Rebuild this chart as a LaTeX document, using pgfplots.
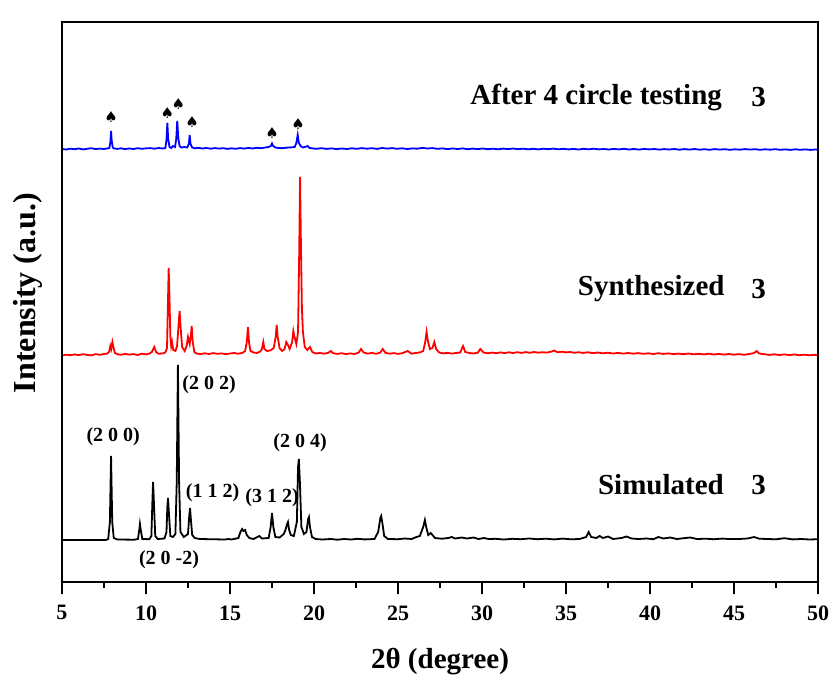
\documentclass[border=0pt]{standalone}
\usepackage{pgfplots}
\pgfplotsset{compat=1.18}
\usepackage{fontspec}
\setmainfont{Liberation Serif}
\newfontfamily\symfont{DejaVu Sans}
\begin{document}
\begin{tikzpicture}
\begin{axis}[
  scale only axis, width=756pt, height=560pt,
  xmin=5, xmax=50, ymin=0, ymax=560,
  xtick={5,10,...,50}, ytick=\empty,
  xtick pos=left, tick align=outside,
  major tick length=12pt,
  xtick style={draw=none},
  axis line style={line width=2.8pt},
  /pgf/number format/assume math mode=true,
  ticklabel style={font=\fontsize{22}{22}\selectfont\bfseries},
  xticklabel shift=8pt,
  xlabel={2θ (degree)}, ylabel={Intensity (a.u.)},
  xlabel style={font=\fontsize{29}{29}\selectfont\bfseries, yshift=-21pt},
  ylabel style={font=\fontsize{32}{32}\selectfont\bfseries, yshift=4pt, xshift=9pt},
  clip=false,
]
% Simulated
\addplot[black, line width=1.8pt] coordinates {
(5.0,42) (7.6,42) (7.75,43) (7.85,60) (7.92,126) (7.99,60) (8.08,44) (8.3,42.5) (9.3,42.3) (9.52,43) (9.6,52) (9.64,58) (9.69,52) (9.78,43)
(10.2,42.8) (10.32,46) (10.38,80) (10.42,100) (10.47,80) (10.55,46) (10.7,43) (11.1,43.5) (11.22,50) (11.27,75) (11.31,84) (11.36,70) (11.45,46)
(11.6,45) (11.75,48) (11.83,100) (11.9,217) (11.97,100) (12.05,50) (12.25,45) (12.5,48) (12.57,65) (12.62,74) (12.67,63) (12.75,47) (12.9,44)
(13.2,43) (14.7,42.5) (14.9,43) (15.1,42.5) (15.5,44) (15.62,50) (15.72,53) (15.8,51) (15.9,52) (16.0,47) (16.15,44) (16.4,43) (16.75,46) (16.9,43.5)
(17.3,44) (17.42,55) (17.5,69) (17.58,55) (17.7,45) (17.95,44.5) (18.2,48) (18.3,52) (18.4,58) (18.45,60) (18.52,52) (18.62,47) (18.8,46)
(18.98,60) (19.05,115) (19.1,123) (19.16,100) (19.25,55) (19.4,48) (19.55,50) (19.65,63) (19.7,65) (19.76,55) (19.88,45) (20.1,43) (20.5,42.5)
(21.0,43) (21.4,42.3) (21.8,43) (22.2,42.5) (22.6,43.2) (23.0,42.6) (23.6,43) (23.82,50) (23.95,64) (24.0,66) (24.06,60) (24.18,46) (24.4,43)
(25.0,42.8) (25.4,43.5) (25.8,43) (26.1,45) (26.3,46) (26.5,55) (26.6,62) (26.68,55) (26.8,47) (26.95,49) (27.05,47) (27.2,44) (27.6,43.3)
(28.0,44) (28.2,45) (28.4,43.5) (28.8,44.5) (29.1,43.5) (29.5,44.5) (29.8,43) (30.1,44) (30.4,43) (30.8,43.2) (31.3,42.5) (31.8,43.2) (32.3,42.8)
(32.8,43.5) (33.3,42.8) (33.8,43.3) (34.3,42.6) (34.8,43.4) (35.3,42.7) (35.8,43) (36.2,45) (36.35,50) (36.5,45) (36.8,44) (37.0,46) (37.2,44)
(37.5,45.5) (37.8,43) (38.3,44) (38.6,45.5) (38.9,43.5) (39.3,43) (39.8,43.5) (40.2,42.8) (40.5,45) (40.8,43.5) (41.2,44.5) (41.6,43) (42.0,43.8)
(42.4,44.5) (42.8,43) (43.3,43.3) (43.8,42.8) (44.3,43.4) (44.8,42.9) (45.3,43) (45.8,43.5) (46.2,45) (46.5,43.3) (47.0,43) (47.5,42.7) (48.0,43.8)
(48.5,42.6) (49.0,43) (49.5,42.5) (50.0,42.8)
};
% Synthesized
\addplot[red, line width=1.8pt] coordinates {
(5.0,226.5) (5.25,227.3) (5.5,226.8) (5.75,227.6) (6.0,226.9) (6.25,227.8) (6.5,227.1) (6.75,226.6) (7.0,227.9) (7.25,227.2) (7.5,228.0) (7.7,228.5)
(7.8,230) (7.88,236) (7.93,233) (8.0,240) (8.06,235) (8.15,229) (8.3,227.8) (8.5,227.2) (8.75,228.1) (9.0,227.4) (9.25,227.9) (9.5,227.0) (9.75,228.3)
(10.0,227.6) (10.2,228.4) (10.35,230) (10.49,235) (10.6,230) (10.75,228.2) (11.0,228.6) (11.15,229.5) (11.25,234) (11.32,290) (11.35,314) (11.39,290)
(11.45,245) (11.5,236) (11.55,240) (11.62,232) (11.75,231) (11.85,236) (11.93,255) (12.0,271) (12.06,255) (12.15,235) (12.3,231) (12.42,236) (12.5,245)
(12.6,238) (12.68,248) (12.72,256) (12.78,240) (12.88,230) (13.0,228.5) (13.25,227.9) (13.5,228.7) (13.75,228.0) (14.0,228.9) (14.25,228.2) (14.5,228.6)
(14.75,227.8) (15.0,228.5) (15.25,229.0) (15.5,228.3) (15.75,229.2) (15.9,231) (16.0,240) (16.07,255) (16.13,240) (16.22,231) (16.4,229.5) (16.6,229.0)
(16.8,230.5) (16.9,233) (16.98,240) (17.05,233) (17.2,231) (17.4,231.5) (17.6,234) (17.72,245) (17.78,257) (17.84,245) (17.95,234) (18.1,231) (18.25,233)
(18.35,240) (18.42,238) (18.55,233) (18.7,240) (18.77,251) (18.84,245) (18.95,238) (19.05,250) (19.12,330) (19.17,405) (19.22,340) (19.28,274) (19.34,250)
(19.45,235) (19.6,232) (19.76,235) (19.9,230) (20.1,228.5) (20.35,229.0) (20.6,228.3) (20.85,229.2) (21.0,231) (21.15,228.7) (21.4,228.1) (21.65,228.8)
(21.9,227.9) (22.15,228.6) (22.4,228.0) (22.65,229.3) (22.8,233) (22.95,229.5) (23.2,228.4) (23.45,229.1) (23.7,228.2) (23.95,229.5) (24.09,233) (24.25,229.2)
(24.5,228.3) (24.75,228.9) (25.0,228.1) (25.25,228.8) (25.58,231) (25.8,228.3) (26.05,229.0) (26.3,229.6) (26.5,231) (26.62,240) (26.7,250) (26.78,241)
(26.9,233) (27.05,234) (27.16,240) (27.27,233) (27.45,229.5) (27.7,228.6) (27.95,229.2) (28.2,228.4) (28.45,229.0) (28.7,229.5) (28.87,236) (29.0,230)
(29.25,229.0) (29.5,228.5) (29.75,229.3) (29.9,233) (30.1,229.4) (30.35,228.7) (30.6,229.4) (30.85,228.8) (31.1,229.6) (31.35,228.9) (31.6,229.7) (31.85,229.0)
(32.1,229.8) (32.35,229.1) (32.6,229.9) (32.85,229.2) (33.1,230.0) (33.35,229.3) (33.6,229.8) (33.85,229.4) (34.1,230.2) (34.3,231.5) (34.5,229.7) (34.75,230.3)
(35.0,229.6) (35.25,230.0) (35.5,229.2) (35.75,229.8) (36.0,229.1) (36.3,229.7) (36.6,228.9) (36.9,229.5) (37.2,228.7) (37.5,229.3) (37.8,228.5) (38.1,229.1)
(38.4,228.4) (38.7,229.0) (39.0,228.3) (39.3,228.9) (39.6,228.2) (39.9,228.7) (40.2,228.0) (40.5,228.8) (40.8,228.1) (41.1,228.6) (41.4,227.9) (41.7,228.4)
(42.0,227.8) (42.3,228.5) (42.6,227.7) (42.9,228.2) (43.2,227.6) (43.5,228.3) (43.8,227.5) (44.1,228.1) (44.4,227.4) (44.7,228.0) (45.0,227.3) (45.3,227.9)
(45.6,227.2) (45.9,228.0) (46.2,229.0) (46.35,231) (46.5,228.5) (46.8,227.8) (47.1,227.1) (47.4,227.7) (47.7,227.0) (48.0,227.6) (48.3,226.9) (48.6,227.5)
(48.9,226.8) (49.2,227.3) (49.5,226.7) (49.8,227.2) (50.0,226.8)
};
% After 4 cycles
\addplot[blue, line width=1.8pt] coordinates {
(5.0,433) (5.25,432.5) (5.5,433.3) (5.75,432.8) (6.0,433.5) (6.25,432.6) (6.5,433.2) (6.75,433.8) (7.0,432.9) (7.25,433.4) (7.5,433.0) (7.7,433.6)
(7.82,434) (7.88,440) (7.92,451) (7.96,441) (8.02,434.5) (8.1,433.6) (8.3,433.1) (8.5,433.7) (8.75,432.9) (9.0,433.5) (9.25,433.0) (9.5,433.8) (9.75,433.2)
(10.0,433.6) (10.25,433.9) (10.5,433.3) (10.75,434.0) (11.0,433.5) (11.15,434) (11.22,442) (11.27,459) (11.32,443) (11.4,435) (11.5,434) (11.6,436)
(11.73,435) (11.8,443) (11.86,461) (11.92,444) (12.0,436) (12.1,434.5) (12.3,435) (12.45,434.5) (12.55,438) (12.6,447) (12.65,438) (12.75,434.5)
(12.9,433.7) (13.1,434.2) (13.35,433.5) (13.6,434.0) (13.85,433.3) (14.1,433.9) (14.35,433.4) (14.6,433.8) (14.85,433.1) (15.1,433.7) (15.35,433.2)
(15.6,433.9) (15.85,433.4) (16.1,434.1) (16.35,433.5) (16.6,434.2) (16.85,433.8) (17.1,434.5) (17.3,435) (17.43,436) (17.5,438.5) (17.57,436) (17.7,434.5)
(17.9,434) (18.1,433.8) (18.35,434.3) (18.6,434.6) (18.85,435) (18.95,439) (19.03,447) (19.1,439) (19.2,436) (19.35,434.5) (19.55,435.5) (19.62,436)
(19.72,434.2) (19.9,433.6) (20.15,433.2) (20.45,433.8) (20.75,433.1) (21.05,433.6) (21.35,432.9) (21.65,433.5) (21.95,433.0) (22.25,433.7) (22.55,433.2)
(22.85,433.9) (23.15,433.3) (23.45,433.8) (23.75,433.1) (24.05,434.0) (24.35,433.4) (24.65,433.9) (24.95,433.2) (25.25,433.7) (25.55,433.0) (25.85,433.6)
(26.15,433.3) (26.45,434.1) (26.75,433.5) (27.05,433.9) (27.35,433.2) (27.65,433.6) (27.95,432.9) (28.25,433.5) (28.55,433.0) (28.85,433.6) (29.15,432.8)
(29.45,433.4) (29.75,432.9) (30.05,433.5) (30.35,432.8) (30.65,433.3) (30.95,432.7) (31.25,433.4) (31.55,432.9) (31.85,433.5) (32.15,432.8) (32.45,433.3)
(32.75,432.7) (33.05,433.2) (33.35,432.6) (33.65,433.3) (33.95,432.8) (34.25,433.4) (34.55,432.7) (34.85,433.2) (35.15,432.6) (35.45,433.1) (35.75,432.5)
(36.05,433.2) (36.35,432.7) (36.65,433.3) (36.95,432.6) (37.25,433.0) (37.55,432.5) (37.85,433.1) (38.15,432.6) (38.45,433.2) (38.75,432.5) (39.05,433.0)
(39.35,432.4) (39.65,433.1) (39.95,432.6) (40.25,433.0) (40.55,432.4) (40.85,432.9) (41.15,432.5) (41.45,433.0) (41.75,432.3) (42.05,432.9) (42.35,432.4)
(42.65,433.0) (42.95,432.3) (43.25,432.8) (43.55,432.2) (43.85,432.9) (44.15,432.4) (44.45,432.8) (44.75,432.2) (45.05,432.7) (45.35,432.3) (45.65,432.9)
(45.95,432.4) (46.25,432.8) (46.55,432.2) (46.85,432.7) (47.15,432.3) (47.45,432.8) (47.75,432.2) (48.05,432.6) (48.35,432.1) (48.65,432.7) (48.95,432.2)
(49.25,432.6) (49.55,432.1) (49.85,432.5) (50.0,432.3)
};
% spade markers
\addplot[black, only marks, mark=text, text mark={\symfont\fontsize{15}{15}\selectfont ♠}] coordinates {
(7.92,465) (11.27,469) (11.92,478) (12.75,460) (17.5,449) (19.05,458)
};
% series labels
\node[anchor=west, font=\fontsize{29}{29}\selectfont\bfseries] at (axis cs:29.1,485) {After 4 circle testing};
\node[font=\fontsize{29}{29}\selectfont\bfseries] at (axis cs:46.46,485) {3};
\node[anchor=west, font=\fontsize{29}{29}\selectfont\bfseries] at (axis cs:35.5,293) {Synthesized};
\node[font=\fontsize{29}{29}\selectfont\bfseries] at (axis cs:46.46,293) {3};
\node[anchor=west, font=\fontsize{29}{29}\selectfont\bfseries] at (axis cs:36.7,97) {Simulated};
\node[font=\fontsize{29}{29}\selectfont\bfseries] at (axis cs:46.46,97) {3};
% Miller indices
\node[font=\fontsize{20}{20}\selectfont\bfseries] at (axis cs:8.05,145) {(2 0 0)};
\node[font=\fontsize{20}{20}\selectfont\bfseries] at (axis cs:13.75,197) {(2 0 2)};
\node[font=\fontsize{20}{20}\selectfont\bfseries] at (axis cs:13.96,89) {(1 1 2)};
\node[font=\fontsize{20}{20}\selectfont\bfseries] at (axis cs:17.5,84) {(3 1 2)};
\node[font=\fontsize{20}{20}\selectfont\bfseries] at (axis cs:19.17,139) {(2 0 4)};
\node[font=\fontsize{20}{20}\selectfont\bfseries] at (axis cs:11.37,22) {(2 0 -2)};
\end{axis}
% frame and outward tick marks along the axis
\draw[line width=2.8pt] (current axis.south west) rectangle (current axis.north east);
\foreach \t in {0,5,...,45} \draw[line width=2.6pt] ([xshift=\t*16.8pt]current axis.south west) -- ++(0,-12pt);
\foreach \t in {2.5,7.5,...,42.5} \draw[line width=2.6pt] ([xshift=\t*16.8pt]current axis.south west) -- ++(0,-6pt);
\pgfresetboundingbox
\path[use as bounding box] ([shift={(-62pt,-93pt)}]current axis.south west) rectangle ([shift={(21pt,22pt)}]current axis.north east);
\end{tikzpicture}
\end{document}
